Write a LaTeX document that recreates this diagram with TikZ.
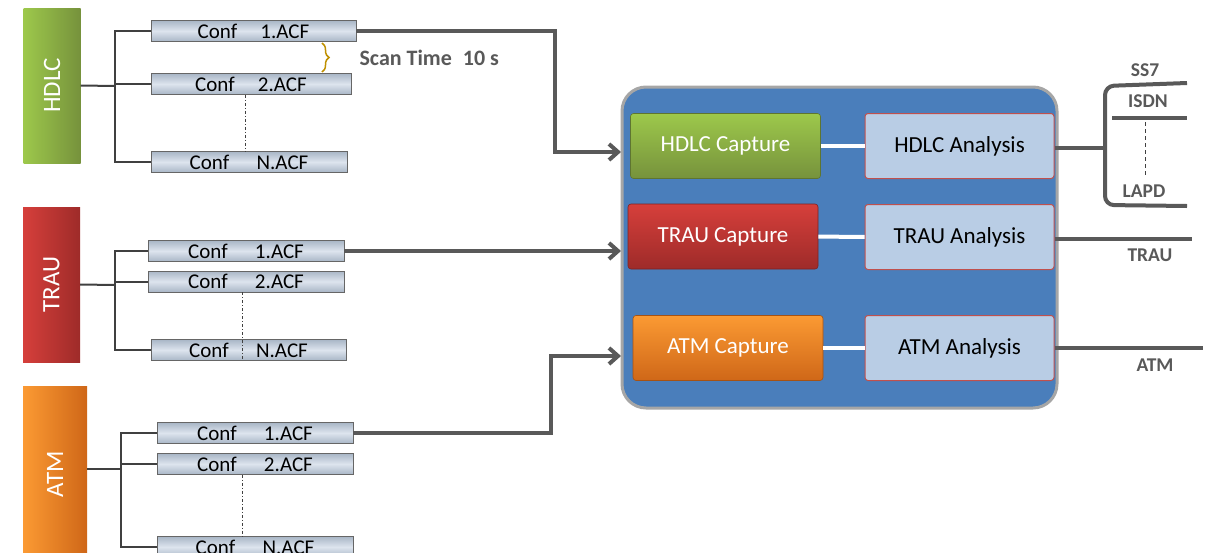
\documentclass[tikz,border=0pt]{standalone}
\usepackage{fontspec}
\setmainfont{Carlito}
\usetikzlibrary{arrows.meta,decorations.pathreplacing}

\definecolor{greentop}{HTML}{9DC84B}
\definecolor{greenbot}{HTML}{76923C}
\definecolor{redtop}{HTML}{D63F3B}
\definecolor{redbot}{HTML}{9E2B29}
\definecolor{orangetop}{HTML}{FB9A33}
\definecolor{orangebot}{HTML}{CF6718}
\definecolor{panelblue}{HTML}{4A7EBB}
\definecolor{anafill}{HTML}{B9CDE5}
\definecolor{anaborder}{HTML}{C0504D}
\definecolor{confdark}{HTML}{A9B6C6}
\definecolor{conflight}{HTML}{DDE4EE}
\definecolor{linegray}{HTML}{595959}
\definecolor{treegray}{HTML}{404040}
\definecolor{bracegold}{HTML}{BF9000}

\tikzset{
  proto/.style={draw=none, minimum width=57pt, minimum height=155pt, inner sep=0pt,
    text=white, font=\fontsize{25}{25}\selectfont},
  conf/.style={draw=gray!80!black, line width=0.8pt, top color=confdark, bottom color=confdark,
    middle color=conflight, minimum width=#1, minimum height=21pt, inner sep=0pt,
    font=\fontsize{21}{21}\selectfont},
  conf/.default=196pt,
  capture/.style={rounded corners=3pt, draw=#1bot!80!black, line width=0.6pt, top color=#1top,
    bottom color=#1bot, minimum width=190pt, minimum height=65pt, text=white,
    font=\fontsize{23}{23}\selectfont},
  analysis/.style={rounded corners=3pt, draw=anaborder, line width=1pt, fill=anafill,
    minimum width=189pt, minimum height=65pt, font=\fontsize{23}{23}\selectfont},
  tree/.style={draw=treegray, line width=2pt},
  feed/.style={draw=linegray, line width=4pt, -{Straight Barb[length=9pt,width=16pt]}},
  outline/.style={draw=linegray, line width=4pt},
  link/.style={draw=white, line width=4pt},
  outlabel/.style={text=linegray, font=\bfseries\fontsize{19.5}{19.5}\selectfont},
  dots/.style={draw=treegray, line width=1pt, dash dot}
}

\begin{document}
\begin{tikzpicture}[x=1pt, y=-1pt]
\clip (0,0) rectangle (1215,552);

% left side: protocol blocks and their configurations
\node[proto, left color=greentop, right color=greenbot] (hdlc) at (52,85.5) {\rotatebox{90}{HDLC}};
\node[proto, left color=redtop, right color=redbot] (trau) at (51.5,284.5) {\rotatebox{90}{TRAU}};
\node[proto, minimum width=64pt, minimum height=184pt, left color=orangetop, right color=orangebot] (atm) at (55,478) {};
\node[text=white, font=\fontsize{25}{25}\selectfont] (atmlabel) at (55,474) {\rotatebox{90}{ATM}};

\node[conf=205pt] (hconf1) at (253.5,31) {Conf\hspace{1.1em}1.ACF};
\node[conf=200pt] (hconf2) at (251,84) {Conf\hspace{1.1em}2.ACF};
\node[conf] (hconfn) at (249,162) {Conf\hspace{1.3em}N.ACF};

\node[conf] (tconf1) at (246,251) {Conf\hspace{1.3em}1.ACF};
\node[conf] (tconf2) at (246,281.5) {Conf\hspace{1.3em}2.ACF};
\node[conf=195pt] (tconfn) at (248.5,350) {Conf\hspace{1.3em}N.ACF};

\node[conf] (aconf1) at (255,433) {Conf\hspace{1.3em}1.ACF};
\node[conf] (aconf2) at (255,464) {Conf\hspace{1.3em}2.ACF};
\node[conf] (aconfn) at (255,547) {Conf\hspace{1.3em}N.ACF};

\coordinate (hbus) at (115,86);
\coordinate (tbus) at (115,285);
\coordinate (abus) at (121,469);

\draw[tree] (hdlc.east) -- (hbus);
\draw[tree] (hconf1.west) -| (hbus) |- (hconfn.west);
\draw[tree] (hbus |- hconf2.west) -- (hconf2.west);
\draw[tree] (trau.east) -- (tbus);
\draw[tree] (tconf1.west) -| (tbus) |- (tconfn.west);
\draw[tree] (tbus |- tconf2.west) -- (tconf2.west);
\draw[tree] (atm.east |- abus) -- (abus);
\draw[tree] (aconf1.west) -| (abus) |- (aconfn.west);
\draw[tree] (abus |- aconf2.west) -- (aconf2.west);

\draw[dots] ([xshift=-6pt]hconf2.south) -- ([xshift=-4pt]hconfn.north);
\draw[dots] ([xshift=-4pt]tconf2.south) -- ([xshift=-6.5pt]tconfn.south);
\draw[dots] ([xshift=-13pt]aconf2.south) -- ([xshift=-13pt]aconfn.north);

% scan time
\draw[bracegold, line width=1.5pt, decorate, decoration={brace, amplitude=7pt}]
  (322,43) -- (322,72) coordinate[midway] (scan);
\node[anchor=west, text=linegray, font=\bfseries\fontsize{22}{22}\selectfont] (scantime)
  at (356,58) {Scan Time\hspace{0.5em}10 s};

% central panel
\node[rounded corners=24pt, draw=gray!70, line width=3pt, fill=panelblue,
  minimum width=435pt, minimum height=321pt] (panel) at (839.5,247.5) {};

\node[capture=green] (hcap) at (725.5,146) {HDLC Capture};
\node[capture=red] (tcap) at (723,236.5) {TRAU Capture};
\node[capture=orange] (acap) at (728,348) {ATM Capture};
\node[analysis] (han) at (959.5,146) {HDLC Analysis};
\node[analysis] (tan) at (959.5,237) {TRAU Analysis};
\node[analysis] (aan) at (959.5,348) {ATM Analysis};

\draw[link] (hcap) -- (han);
\draw[link] (tcap) -- (tan);
\draw[link] (acap) -- (aan);

\coordinate (hin) at (621,152);
\coordinate (tin) at (621,248);
\coordinate (ain) at (621,356);
\draw[feed] (hconf1.east) -- ++(199,0) |- (hin);
\draw[feed] (tconf1.east) -- (tconf1.east -| tin);
\draw[feed] (aconf1.east) -- ++(198,0) |- (ain);

% outputs
\coordinate (hsplit) at (1105,148);
\coordinate (ss7end) at (1187,83);
\coordinate (isdnstart) at (1112,118);
\coordinate (isdnend) at (1187,118);
\coordinate (lapdend) at (1187,206);
\coordinate (trauend) at (1192,239);
\coordinate (atmend) at (1203,348);

\draw[outline] (han.east |- hsplit) -- (hsplit);
\draw[outline, rounded corners=9pt] (ss7end) -- (1105,86) -- (1105,205) -- (lapdend);
\draw[outline] (isdnstart) -- (isdnend);
\draw[dots, dash pattern=on 4pt off 3pt] (1145,122) -- (1145,176);
\draw[outline] (tan.east |- trauend) -- (trauend);
\draw[outline] (aan.east |- atmend) -- (atmend);

\node[outlabel] (ss7) at (1145,70) {SS7};
\node[outlabel] (isdn) at (1148,101) {ISDN};
\node[outlabel] (lapd) at (1144,191) {LAPD};
\node[outlabel] (traulabel) at (1150,255) {TRAU};
\node[outlabel] (atmout) at (1155,365) {ATM};
\end{tikzpicture}
\end{document}
